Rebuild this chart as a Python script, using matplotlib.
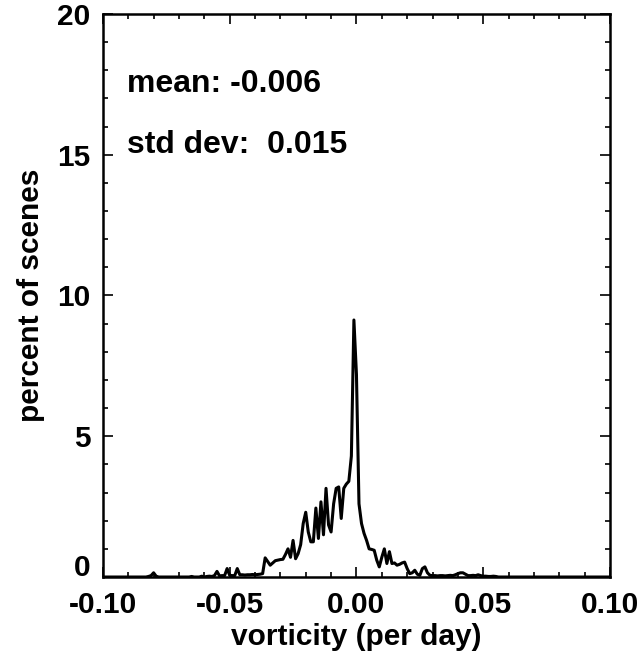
import numpy as np
import matplotlib
matplotlib.use("Agg")
import matplotlib.pyplot as plt
import matplotlib.transforms as mtransforms
from matplotlib.ticker import MultipleLocator

# vorticity bin centres (per day), 0.001 wide, from -0.100 to 0.100
vorticity = np.round(np.arange(-100, 101) * 0.001, 3)

# percent of scenes in each bin
percent = [
    # -0.100 .. -0.091
    0.00, 0.00, 0.00, 0.00, 0.00, 0.00, 0.00, 0.00, 0.00, 0.00,
    # -0.090 .. -0.081
    0.00, 0.00, 0.00, 0.00, 0.00, 0.00, 0.00, 0.00, 0.02, 0.05,
    # -0.080 .. -0.071
    0.15, 0.03, 0.00, 0.00, 0.00, 0.00, 0.00, 0.00, 0.00, 0.00,
    # -0.070 .. -0.061
    0.00, 0.00, 0.00, 0.00, 0.00, 0.02, 0.00, 0.00, 0.00, 0.03,
    # -0.060 .. -0.051
    0.00, 0.02, 0.03, 0.02, 0.05, 0.20, 0.04, 0.05, 0.05, 0.30,
    # -0.050 .. -0.041
    0.06, 0.05, 0.05, 0.30, 0.08, 0.08, 0.07, 0.08, 0.08, 0.09,
    # -0.040 .. -0.031
    0.08, 0.09, 0.10, 0.12, 0.68, 0.55, 0.42, 0.50, 0.58, 0.60,
    # -0.030 .. -0.021
    0.62, 0.63, 0.80, 1.00, 0.70, 1.30, 0.65, 0.83, 1.15, 1.90,
    # -0.020 .. -0.011
    2.30, 1.60, 1.25, 1.25, 2.45, 1.37, 2.67, 1.50, 3.15, 1.85,
    # -0.010 .. -0.001
    1.60, 2.60, 3.15, 3.20, 2.08, 3.15, 3.30, 3.40, 4.30, 9.13,
    # 0.000 .. 0.009
    7.20, 2.60, 1.90, 1.55, 1.30, 1.00, 0.98, 0.95, 0.60, 0.36,
    # 0.010 .. 0.019
    0.70, 1.00, 0.48, 0.90, 0.48, 0.50, 0.42, 0.45, 0.50, 0.53,
    # 0.020 .. 0.029
    0.30, 0.12, 0.15, 0.24, 0.10, 0.06, 0.30, 0.36, 0.15, 0.06,
    # 0.030 .. 0.039
    0.05, 0.05, 0.04, 0.05, 0.05, 0.04, 0.05, 0.06, 0.05, 0.08,
    # 0.040 .. 0.049
    0.12, 0.15, 0.15, 0.10, 0.05, 0.05, 0.06, 0.05, 0.08, 0.05,
    # 0.050 .. 0.059
    0.03, 0.03, 0.02, 0.02, 0.03, 0.02, 0.00, 0.00, 0.00, 0.00,
    # 0.060 .. 0.069
    0.00, 0.00, 0.00, 0.00, 0.00, 0.00, 0.00, 0.00, 0.00, 0.00,
    # 0.070 .. 0.079
    0.00, 0.00, 0.00, 0.00, 0.00, 0.00, 0.00, 0.00, 0.00, 0.00,
    # 0.080 .. 0.089
    0.00, 0.00, 0.00, 0.00, 0.00, 0.00, 0.00, 0.00, 0.00, 0.00,
    # 0.090 .. 0.100
    0.00, 0.00, 0.00, 0.00, 0.00, 0.00, 0.00, 0.00, 0.00, 0.00, 0.00,
]

x_ticks = [-0.10, -0.05, 0.00, 0.05, 0.10]
x_tick_labels = ["-0.10", "-0.05", "0.00", "0.05", "0.10"]
y_ticks = [0, 5, 10, 15, 20]
y_tick_labels = ["0", "5", "10", "15", "20"]
stats_text = ["mean: -0.006", "std dev:  0.015"]

plt.rcParams['font.family'] = ['Liberation Sans', 'DejaVu Sans']
plt.rcParams['font.weight'] = 'bold'

fig = plt.figure(figsize=(6.43, 6.56), dpi=100)
ax = fig.add_axes([0.160, 0.1204, 0.7887, 0.8583])

ax.plot(vorticity, percent, color='black', linewidth=2.2, solid_joinstyle='round')

ax.set_xlim(-0.10, 0.10)
ax.set_ylim(0, 20)
ax.set_xticks(x_ticks)
ax.set_xticklabels(x_tick_labels)
ax.set_yticks(y_ticks)
ax.set_yticklabels(y_tick_labels)
ax.xaxis.set_minor_locator(MultipleLocator(0.01))
ax.yaxis.set_minor_locator(MultipleLocator(1))

ax.tick_params(which='both', direction='in', top=True, right=True, width=1.2,
               labelsize=21.5)
ax.tick_params(axis='x', which='major', length=7.5, pad=10)
ax.tick_params(axis='y', which='major', length=7.5, pad=9)
ax.tick_params(which='minor', length=3.5)
for lab in ax.get_xticklabels() + ax.get_yticklabels():
    lab.set_fontweight('bold')
for s in ax.spines.values():
    s.set_linewidth(1.8)

# the "0" label on the y axis sits a little above the axis line, as in the original
zero_lab = ax.get_yticklabels()[0]
zero_lab.set_transform(zero_lab.get_transform() +
                       mtransforms.ScaledTranslation(0, 9 / 72, fig.dpi_scale_trans))

ax.set_xlabel("vorticity (per day)", fontsize=21.5, fontweight='bold', labelpad=3)
ax.set_ylabel("percent of scenes", fontsize=21.5, fontweight='bold', labelpad=9)

ax.text(-0.0905, 17.5, stats_text[0], fontsize=23, fontweight='bold', va='center', ha='left')
ax.text(-0.0905, 15.35, stats_text[1], fontsize=23, fontweight='bold', va='center', ha='left')

fig.savefig("out.png", dpi=100)
